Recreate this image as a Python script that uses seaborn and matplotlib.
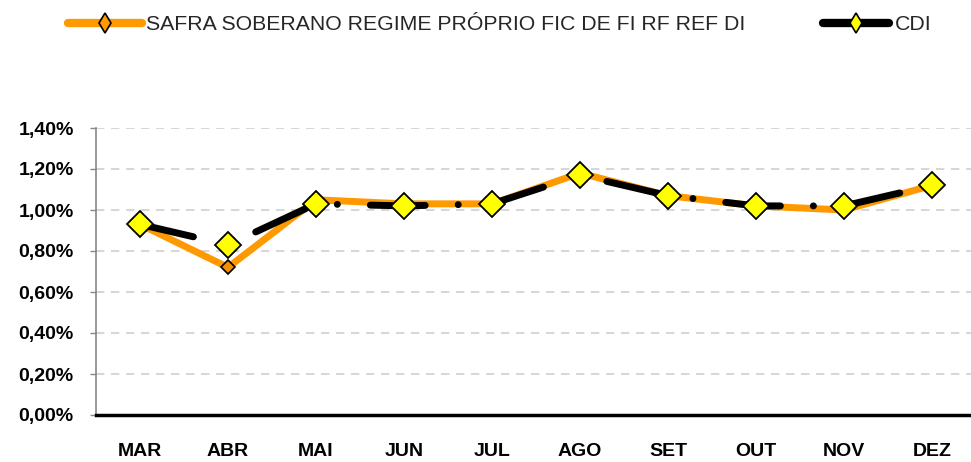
import matplotlib
matplotlib.use("Agg")
import matplotlib.pyplot as plt
from matplotlib.lines import Line2D
from matplotlib.ticker import FixedLocator, FuncFormatter
import seaborn as sns
import pandas as pd

months = ["MAR", "ABR", "MAI", "JUN", "JUL", "AGO", "SET", "OUT", "NOV", "DEZ"]
safra = [0.93, 0.72, 1.05, 1.03, 1.03, 1.18, 1.07, 1.02, 1.00, 1.12]
cdi = [0.93, 0.83, 1.03, 1.02, 1.03, 1.17, 1.07, 1.02, 1.02, 1.12]
safra_label = "SAFRA SOBERANO REGIME PRÓPRIO FIC DE FI RF REF DI"
cdi_label = "CDI"
yticks = [0.0, 0.2, 0.4, 0.6, 0.8, 1.0, 1.2, 1.4]

sns.set_theme(style="white")
plt.rcParams['font.family'] = ['Liberation Sans', 'DejaVu Sans']

df = pd.DataFrame({"x": range(len(months)), "month": months, "safra": safra, "cdi": cdi})

fig = plt.figure(figsize=(9.71, 4.62), dpi=100)
ax = fig.add_axes([96/971, 47/462, 880/971, 287/462])

orange = "#FF9900"
sns.lineplot(data=df, x="x", y="safra", ax=ax, color=orange, linewidth=5.0,
             marker="D", markersize=7, markerfacecolor="#F39000",
             markeredgecolor="black", markeredgewidth=1.2, zorder=3,
             solid_capstyle="round")
sns.lineplot(data=df, x="x", y="cdi", ax=ax, color="black", linewidth=5.0,
             marker="D", markersize=13, markerfacecolor="#FFFF00",
             markeredgecolor="black", markeredgewidth=1.3, zorder=4)
cdi_line = ax.get_lines()[-1]
cdi_line.set_dashes([7.9, 4.75, 0.01, 4.75])
cdi_line.set_dash_capstyle("round")

ax.set_xlim(-0.5, len(months) - 0.5)
ax.set_ylim(0, 1.4)
ax.set_xlabel("")
ax.set_ylabel("")

ax.set_xticks(range(len(months)))
ax.set_xticklabels(months, fontsize=14, fontweight="bold", color="black")
ax.xaxis.set_minor_locator(FixedLocator([i - 0.5 for i in range(len(months) + 1)]))
ax.tick_params(axis="x", which="major", length=0, pad=20)
ax.tick_params(axis="x", which="minor", length=5, width=2.5, color="black", direction="out")

ax.set_yticks(yticks)
ax.yaxis.set_major_formatter(FuncFormatter(lambda v, p: f"{v:.2f}%".replace(".", ",")))
ax.tick_params(axis="y", which="major", length=4, width=1, color="#888888",
               direction="out", labelsize=14, pad=12, left=True, labelcolor="black")
for t in ax.get_yticklabels():
    t.set_fontweight("bold")

ax.grid(axis="y", color="#d0d0d0", linestyle=(0, (5, 4)), linewidth=1.2)
ax.set_axisbelow(True)
for s in ["top", "right"]:
    ax.spines[s].set_visible(False)
ax.spines["left"].set_color("#888888")
ax.spines["left"].set_linewidth(1.2)
ax.spines["bottom"].set_color("black")
ax.spines["bottom"].set_linewidth(2.5)
ax.spines["bottom"].set_zorder(5)

h1 = Line2D([], [], color=orange, linewidth=6, marker="d", markersize=10,
            markerfacecolor=orange, markeredgecolor="black", markeredgewidth=1.2,
            solid_capstyle="round")
h2 = Line2D([], [], color="black", linewidth=6, marker="d", markersize=10,
            markerfacecolor="#FFFF00", markeredgecolor="black", markeredgewidth=1.2,
            solid_capstyle="round")
lg1 = fig.legend([h1], [safra_label], loc="center left", bbox_to_anchor=(68/971, 1 - 25/462),
                 frameon=False, fontsize=15.3, handlelength=3.5, handletextpad=0.15,
                 borderpad=0, borderaxespad=0)
lg2 = fig.legend([h2], [cdi_label], loc="center left", bbox_to_anchor=(823/971, 1 - 25/462),
                 frameon=False, fontsize=15.3, handlelength=3.1, handletextpad=0.3,
                 borderpad=0, borderaxespad=0)

fig.savefig("out.png", dpi=100)
